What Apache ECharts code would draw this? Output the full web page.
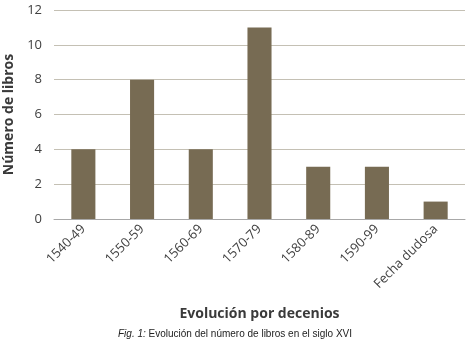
<!DOCTYPE html>
<html>
<head>
<meta charset="utf-8">
<script src="https://cdn.jsdelivr.net/npm/echarts@6/dist/echarts.min.js"></script>
<style>
  html, body { margin: 0; padding: 0; background: #fff; }
  #chart { width: 470px; height: 342px; }
</style>
</head>
<body>
<div id="chart"></div>
<script>
// decenios y número de libros
const decenios = ["1540-49", "1550-59", "1560-69", "1570-79", "1580-89", "1590-99", "Fecha dudosa"];
const libros = [4, 8, 4, 11, 3, 3, 1];
const yTicks = [0, 2, 4, 6, 8, 10, 12];

let chart = echarts.init(document.getElementById("chart"));

chart.setOption({
  animation: false,
  textStyle: { fontFamily: "Open Sans" },
  title: {
    text: "{i|Fig. 1:} Evolución del número de libros en el siglo XVI",
    left: "center",
    top: 324,
    textStyle: {
      fontFamily: "Liberation Sans",
      fontSize: 10,
      fontWeight: "normal",
      color: "#222",
      rich: {
        i: { fontStyle: "italic", fontFamily: "Liberation Sans", fontSize: 10, color: "#222" }
      }
    }
  },
  grid: { left: 54, right: 5, top: 10, bottom: 123, outerBoundsMode: "none", containLabel: false },
  xAxis: {
    type: "category",
    data: decenios,
    name: "Evolución por decenios",
    nameLocation: "middle",
    nameGap: 88,
    nameTextStyle: { fontSize: 14, fontWeight: "bold", color: "#3a3a3a" },
    axisLine: { lineStyle: { color: "#a8a8a8" } },
    axisTick: { show: false },
    axisLabel: { rotate: 45, fontSize: 13, color: "#404040", margin: 8, interval: 0 }
  },
  yAxis: {
    type: "value",
    min: 0,
    max: 12,
    interval: 2,
    name: "Número de libros",
    nameLocation: "middle",
    nameGap: 36,
    nameTextStyle: { fontSize: 14, fontWeight: "bold", color: "#3a3a3a" },
    axisLine: { show: false },
    axisTick: { show: false },
    axisLabel: {
      fontSize: 13,
      color: "#404040",
      margin: 12,
      formatter: v => (yTicks.includes(v) ? String(v) : "")
    },
    splitLine: { lineStyle: { color: "#c4c0b4", width: 1 } }
  },
  series: [
    {
      type: "bar",
      data: libros,
      barWidth: "41%",
      itemStyle: { color: "#776b53" }
    }
  ]
});
</script>
</body>
</html>
